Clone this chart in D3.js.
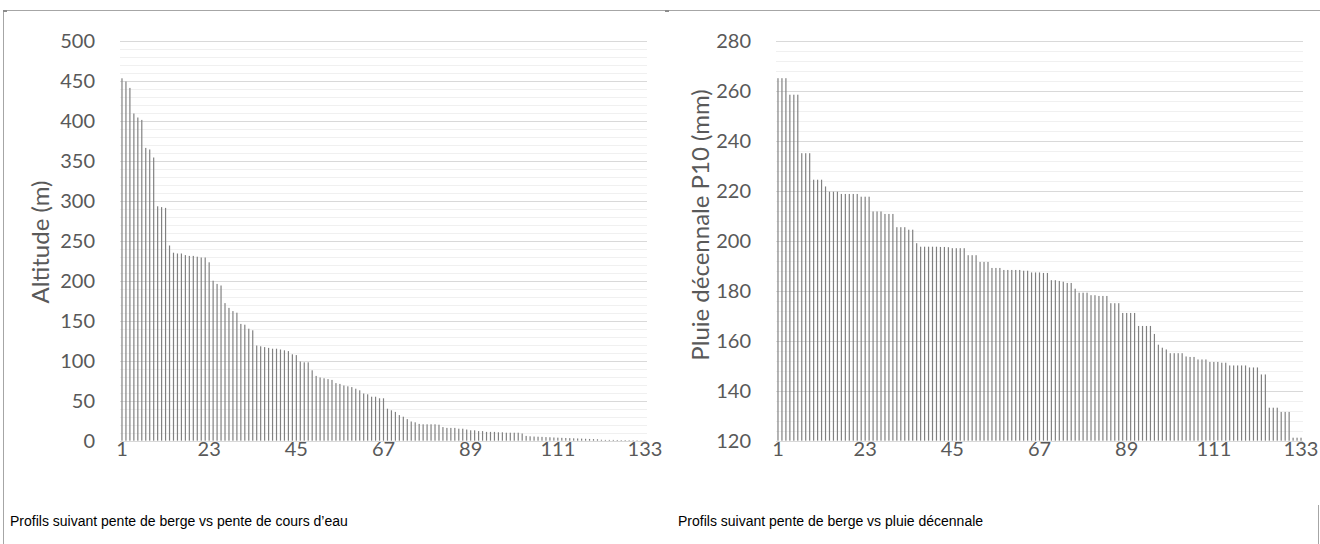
<!DOCTYPE html>
<html>
<head>
<meta charset="utf-8">
<script src="https://cdn.jsdelivr.net/npm/d3@7"></script>
<style>
  html, body { margin: 0; padding: 0; background: #ffffff; }
  svg { display: block; }
</style>
</head>
<body>
<svg id="chart" width="1320" height="544"></svg>
<script>
// ---------- DATA ----------
const categories = d3.range(1, 134); // 1..133

const altitudeValues = [
  453, 449, 441, 409, 404, 401, 366, 364, 354, 293,
  292, 291, 244, 235, 234, 234, 232, 231, 231, 230,
  229, 229, 223, 200, 196, 194, 172, 166, 162, 160,
  146, 145, 140, 138, 119, 118, 117, 116, 115, 115,
  114, 113, 112, 108, 107, 99, 98, 98, 88, 81,
  79, 78, 77, 76, 72, 71, 69, 68, 67, 65,
  63, 59, 58, 55, 55, 53, 53, 40, 38, 36,
  32, 30, 27, 24, 23, 21, 20.5, 20.5, 20.5, 20.5,
  20, 17, 16, 16, 16, 15, 15, 14, 13, 13,
  12, 12, 11, 11, 11, 10.5, 10.5, 10, 10, 10,
  10, 9, 6, 5.5, 5.2, 5, 4.8, 4.5, 4.3, 4,
  3.8, 3.6, 3.4, 3.2, 3, 2.8, 2.6, 2.4, 2.2, 2,
  1.8, 1.2, 1, 1, 1, 0.9, 0.8, 0.8, 0.7, 0.6,
  0.6, 0.5, 0.5
];

const pluieValues = [
  265, 265, 265, 258.4, 258.4, 258.4, 235, 235, 235, 224.4,
  224.4, 224.4, 221.7, 219.6, 219.6, 219.6, 218.7, 218.7, 218.7, 218.7,
  218.7, 217.6, 217.6, 217.6, 211.7, 211.7, 211.7, 210.7, 210.7, 210.7,
  205.4, 205.4, 205.4, 204.4, 204.4, 199, 197.6, 197.6, 197.6, 197.6,
  197.6, 197.5, 197.5, 197.4, 197, 197, 197, 197, 194.2, 194.2,
  194.2, 191.5, 191.5, 191.5, 189.1, 189.1, 189.1, 188.3, 188.3, 188.3,
  188.3, 188.3, 188, 188, 187.3, 187.3, 187.3, 187.1, 187.1, 184.2,
  184.2, 183.9, 183.6, 183.1, 183.1, 180.8, 179.2, 179.2, 179.2, 178.2,
  178.2, 177.9, 177.9, 177.9, 175, 175, 175, 171.1, 171.1, 171.1,
  171.1, 165.9, 165.9, 165.9, 165.9, 162.7, 158.4, 157.2, 156.5, 155,
  155, 155, 155, 153.7, 153.5, 153.5, 152.5, 152.5, 152.5, 151.5,
  151.5, 151.5, 151.2, 151.2, 150.1, 150.1, 150.1, 150.1, 150.1, 149.3,
  149.3, 149.3, 146.5, 146.5, 133.2, 133.2, 133.2, 131.5, 131.5, 131.5,
  121.2, 121.2, 121.2
];

const xTickLabels = [1, 23, 45, 67, 89, 111, 133];
const altitudeTicks = [0, 50, 100, 150, 200, 250, 300, 350, 400, 450, 500];
const pluieTicks = [120, 140, 160, 180, 200, 220, 240, 260, 280];
const titles = ["Altitude (m)", "Pluie décennale P10 (mm)"];
const captions = [
  "Profils suivant pente de berge vs pente de cours d’eau",
  "Profils suivant pente de berge vs pluie décennale"
];

// ---------- DRAW ----------
const svg = d3.select("#chart");
const tickFont = "Lato, 'Open Sans', sans-serif";

// frame
svg.append("line").attr("x1", 3).attr("x2", 1320).attr("y1", 10.5).attr("y2", 10.5)
  .attr("stroke", "#a6a6a6").attr("stroke-width", 1);
svg.append("line").attr("x1", 3.5).attr("x2", 3.5).attr("y1", 10).attr("y2", 544)
  .attr("stroke", "#a6a6a6").attr("stroke-width", 1);
svg.append("line").attr("x1", 1318.5).attr("x2", 1318.5).attr("y1", 505).attr("y2", 544)
  .attr("stroke", "#a6a6a6").attr("stroke-width", 1);
svg.append("rect").attr("x", 3).attr("y", 10).attr("width", 4).attr("height", 2).attr("fill", "#8c8c8c");
svg.append("rect").attr("x", 665).attr("y", 10).attr("width", 4).attr("height", 2).attr("fill", "#8c8c8c");

function panel(cfg) {
  const x = d3.scaleBand().domain(categories).range([cfg.x0, cfg.x1])
    .paddingInner(0.7).paddingOuter(0.35);
  const y = d3.scaleLinear().domain(cfg.domain).range([440.7, 40.7]);
  const g = svg.append("g");

  // minor gridlines
  const minor = d3.range(cfg.domain[0], cfg.domain[1] + 0.001, cfg.minorStep)
    .filter(v => Math.abs((v - cfg.domain[0]) % cfg.majorStep) > 0.001 &&
                 Math.abs((v - cfg.domain[0]) % cfg.majorStep - cfg.majorStep) > 0.001);
  g.append("g").selectAll("line").data(minor).join("line")
    .attr("x1", cfg.x0).attr("x2", cfg.x1)
    .attr("y1", d => Math.round(y(d)) + 0.5).attr("y2", d => Math.round(y(d)) + 0.5)
    .attr("stroke", "#f0f0f0").attr("stroke-width", 1);
  // major gridlines
  g.append("g").selectAll("line").data(cfg.ticks).join("line")
    .attr("x1", cfg.x0).attr("x2", cfg.x1)
    .attr("y1", d => Math.round(y(d)) + 0.5).attr("y2", d => Math.round(y(d)) + 0.5)
    .attr("stroke", "#d9d9d9").attr("stroke-width", 1);

  // bars
  g.append("g").selectAll("rect").data(cfg.values).join("rect")
    .attr("x", (d, i) => x(categories[i]))
    .attr("width", x.bandwidth())
    .attr("y", d => y(d))
    .attr("height", d => y(cfg.domain[0]) - y(d))
    .attr("fill", "#808080");

  // axes
  const ax = g.append("g").attr("transform", `translate(0,${y(cfg.domain[0])})`)
    .call(d3.axisBottom(x).tickValues(xTickLabels).tickSize(0).tickPadding(3));
  ax.select(".domain").remove();
  ax.selectAll("text").attr("font-family", tickFont).attr("font-size", 20)
    .attr("fill", "#595959").attr("dy", "0.6em");

  const ay = g.append("g").attr("transform", `translate(${cfg.x0},0)`)
    .call(d3.axisLeft(y).tickValues(cfg.ticks).tickSize(0).tickPadding(25));
  ay.select(".domain").remove();
  ay.selectAll("text").attr("font-family", tickFont).attr("font-size", 20)
    .attr("fill", "#595959");

  // title
  g.append("text")
    .attr("transform", `translate(${cfg.titleX},${cfg.titleY}) rotate(-90)`)
    .attr("text-anchor", "middle")
    .attr("font-family", tickFont).attr("font-size", 24).attr("fill", "#595959")
    .text(cfg.title);

  // caption
  svg.append("text").attr("x", cfg.capX).attr("y", 526)
    .attr("font-family", "'Liberation Sans', Arial, sans-serif").attr("font-size", 14)
    .attr("fill", "#000").text(cfg.caption);
}

panel({
  x0: 120, x1: 647, domain: [0, 500], ticks: altitudeTicks, majorStep: 50, minorStep: 10,
  values: altitudeValues, title: titles[0], titleX: 49, titleY: 242,
  caption: captions[0], capX: 10
});
panel({
  x0: 776, x1: 1303, domain: [120, 280], ticks: pluieTicks, majorStep: 20, minorStep: 4,
  values: pluieValues, title: titles[1], titleX: 709, titleY: 225,
  caption: captions[1], capX: 678
});
</script>
</body>
</html>
